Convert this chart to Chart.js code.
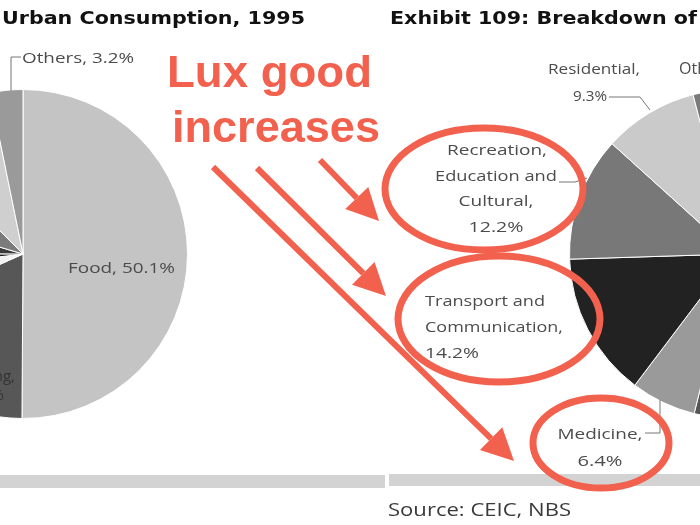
<!DOCTYPE html>
<html>
<head>
<meta charset="utf-8">
<script src="https://cdn.jsdelivr.net/npm/chart.js@4/dist/chart.umd.min.js"></script>
<style>
  html, body { margin: 0; padding: 0; background: #fff; }
  body { width: 700px; height: 525px; position: relative; overflow: hidden; }
  canvas { position: absolute; }
  #overlay { left: 0; top: 0; pointer-events: none; z-index: 5; }
</style>
</head>
<body>
<canvas id="pie1995" width="330" height="330" style="left:-142px;top:89px"></canvas>
<canvas id="pie2010" width="330" height="330" style="left:569px;top:89px"></canvas>
<canvas id="overlay" width="700" height="525"></canvas>
<script>
// categories, clockwise from 12 o'clock
const categories = ['Food', 'Clothing', 'Household Facilities', 'Medicine',
  'Transport and Communication', 'Recreation, Education and Cultural', 'Residential', 'Others'];
// shares in % (most of each pie is cropped away)
const share1995 = [50.1, 18.2, 4.8, 2.0, 4.5, 8.0, 9.2, 3.2];
const share2010 = [36.5, 10.6, 6.8, 6.4, 14.2, 12.2, 9.3, 4.0];
const greys1995 = ['#c4c4c4', '#575757', '#f3f3f3', '#1c1c1c', '#3a3a3a', '#7b7b7b', '#cfcfcf', '#9a9a9a'];
const greys2010 = ['#c4c4c4', '#8a8a8a', '#555555', '#9a9a9a', '#222222', '#787878', '#cacaca', '#7a7a7a'];

function makePie(id, values, colors) {
  return new Chart(document.getElementById(id), {
    type: 'pie',
    data: {
      labels: categories,
      datasets: [{ data: values, backgroundColor: colors, borderColor: '#ffffff', borderWidth: 1 }]
    },
    options: {
      responsive: false,
      animation: false,
      layout: { padding: 0 },
      plugins: { legend: { display: false }, tooltip: { enabled: false } }
    }
  });
}

makePie('pie1995', share1995, greys1995);
makePie('pie2010', share2010, greys2010);

// titles, labels and the red annotations
const ctx = document.getElementById('overlay').getContext('2d');
const RED = '#f2604e';
const LABEL = '#4c4c4c';

// draws text squeezed/stretched to a given width
function fitText(txt, x, y, w, font, color, align) {
  ctx.font = font;
  ctx.fillStyle = color;
  ctx.textBaseline = 'alphabetic';
  ctx.textAlign = 'left';
  const m = ctx.measureText(txt).width;
  const sx = w ? w / m : 1;
  let left = x;
  if (align === 'center') left = x - m * sx / 2;
  if (align === 'right') left = x - m * sx;
  ctx.save();
  ctx.translate(left, y);
  ctx.scale(sx, 1);
  ctx.fillText(txt, 0, 0);
  ctx.restore();
}

function line(pts, color, width) {
  ctx.beginPath();
  ctx.moveTo(pts[0][0], pts[0][1]);
  for (let i = 1; i < pts.length; i++) ctx.lineTo(pts[i][0], pts[i][1]);
  ctx.strokeStyle = color;
  ctx.lineWidth = width;
  ctx.stroke();
}

function arrow(x1, y1, x2, y2) {
  const a = Math.atan2(y2 - y1, x2 - x1);
  const len = 32, half = 16;
  const bx = x2 - len * Math.cos(a), by = y2 - len * Math.sin(a);
  line([[x1, y1], [bx, by]], RED, 6);
  ctx.beginPath();
  ctx.moveTo(x2, y2);
  ctx.lineTo(bx + half * Math.sin(a), by - half * Math.cos(a));
  ctx.lineTo(bx - half * Math.sin(a), by + half * Math.cos(a));
  ctx.closePath();
  ctx.fillStyle = RED;
  ctx.fill();
}

function ring(cx, cy, rx, ry) {
  ctx.beginPath();
  ctx.ellipse(cx, cy, rx, ry, 0, 0, Math.PI * 2);
  ctx.strokeStyle = RED;
  ctx.lineWidth = 7;
  ctx.stroke();
}

// bottom grey rules
ctx.fillStyle = '#d3d3d3';
ctx.fillRect(0, 475, 385, 13);
ctx.fillRect(389, 474, 311, 12);

// titles
fitText('Urban Consumption, 1995', 2, 24, 303, 'bold 18px "DejaVu Sans"', '#111', 'left');
fitText('Exhibit 109: Breakdown of', 390, 24, 307, 'bold 18px "DejaVu Sans"', '#111', 'left');
fitText('Source: CEIC, NBS', 388, 516, 183, '19px "Open Sans"', '#3a3a3a', 'left');

// 1995 pie labels
const lf = '15px "Open Sans"';
fitText('Others, 3.2%', 22, 63, 112, lf, LABEL, 'left');
line([[21, 57], [11, 57], [11, 91]], '#777', 1);
fitText('Food, 50.1%', 68, 273, 107, lf, LABEL, 'left');
fitText('Clothing,', 15, 381, 0, lf, '#333', 'right');
fitText('18.2%', 4, 400, 0, lf, '#333', 'right');

// 2010 pie labels
fitText('Residential,', 548, 74, 92, lf, LABEL, 'left');
fitText('9.3%', 573, 101, 34, lf, LABEL, 'left');
line([[609, 97], [640, 97], [650, 110]], '#777', 1);
fitText('Others,', 679, 74, 0, '16px "Open Sans"', LABEL, 'left');

fitText('Recreation,', 497, 155, 100, lf, LABEL, 'center');
fitText('Education and', 496, 181, 122, lf, LABEL, 'center');
line([[559, 182], [575, 182], [587, 178]], '#777', 1);
fitText('Cultural,', 496, 206, 75, lf, LABEL, 'center');
fitText('12.2%', 496, 232, 55, lf, LABEL, 'center');

fitText('Transport and', 425, 306, 120, lf, LABEL, 'left');
fitText('Communication,', 425, 332, 138, lf, LABEL, 'left');
fitText('14.2%', 425, 358, 54, lf, LABEL, 'left');

fitText('Medicine,', 600, 439, 85, lf, LABEL, 'center');
line([[645, 433], [660, 433], [660, 400]], '#777', 1);
fitText('6.4%', 600, 466, 45, lf, LABEL, 'center');

// red annotation
fitText('Lux good', 167, 87, 205, 'bold 45px "Liberation Sans"', RED, 'left');
fitText('increases', 172, 142, 208, 'bold 45px "Liberation Sans"', RED, 'left');
arrow(320, 160, 379, 221);
arrow(257, 168, 386, 296);
arrow(213, 167, 514, 461);
ring(484, 189, 99, 61);
ring(499, 319, 101, 63);
ring(601, 443, 68, 45);
</script>
</body>
</html>
